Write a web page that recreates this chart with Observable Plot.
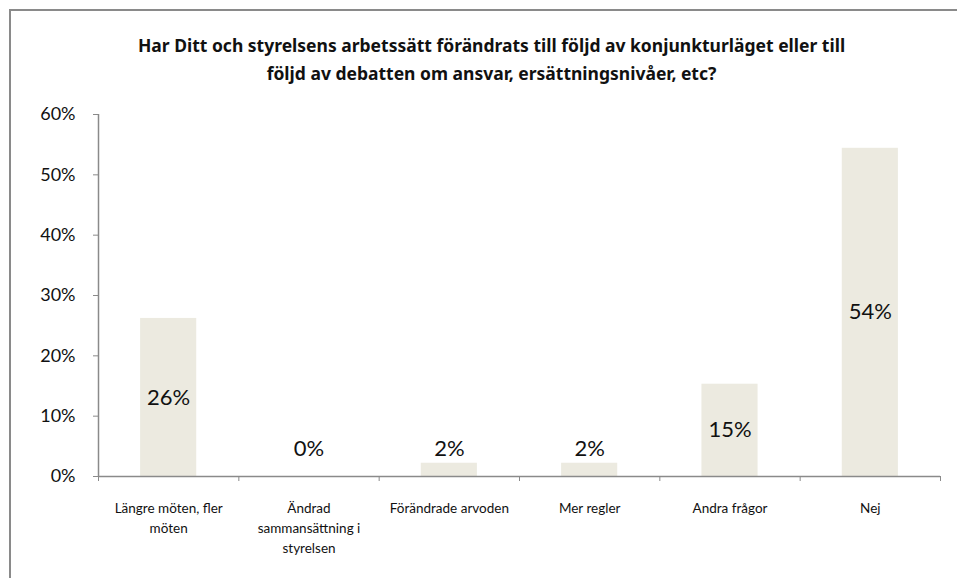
<!DOCTYPE html>
<html><head><meta charset="utf-8">
<script src="https://cdn.jsdelivr.net/npm/d3@7"></script>
<script src="https://cdn.jsdelivr.net/npm/@observablehq/plot@0.6"></script>
<style>
body{margin:0;background:#fff;font-family:Lato,"Noto Sans",sans-serif;}
#wrap{position:relative;width:957px;height:578px;overflow:hidden;}
#frame{position:absolute;left:9px;top:9px;width:2000px;height:2000px;border-left:2px solid #8a8a8a;border-top:2px solid #8a8a8a;}
#title{position:absolute;left:0;top:31px;width:983px;text-align:center;font-family:"Noto Sans",sans-serif;font-weight:bold;font-size:17.5px;line-height:28px;color:#111;}
#chart{position:absolute;left:0;top:0;}
</style></head>
<body>
<div id="wrap"><div id="frame"></div><div id="chart"></div>
<div id="title">Har Ditt och styrelsens arbetssätt förändrats till följd av konjunkturläget eller till<br>följd av debatten om ansvar, ersättningsnivåer, etc?</div></div>
<script>
const categories = ["Längre möten, fler\nmöten", "Ändrad\nsammansättning i\nstyrelsen", "Förändrade arvoden", "Mer regler", "Andra frågor", "Nej"];
const values = [0.262, 0, 0.022, 0.022, 0.153, 0.544];
const labels = ["26%", "0%", "2%", "2%", "15%", "54%"];
const yTicks = [0, 0.1, 0.2, 0.3, 0.4, 0.5, 0.6];

const data = categories.map((c, i) => ({i, c, v: values[i], label: labels[i]}));
const n = categories.length;

const chart = Plot.plot({
  width: 957, height: 578,
  marginLeft: 98, marginRight: 17, marginTop: 114, marginBottom: 102,
  style: {fontFamily: "Lato, 'Noto Sans', sans-serif", background: "transparent", color: "#111"},
  x: {type: "linear", domain: [0, n]},
  y: {domain: [0, 0.6]},
  marks: [
    Plot.rectY(data, {x1: d => d.i + 0.3, x2: d => d.i + 0.7, y1: 0, y2: "v", fill: "#ECEAE0"}),
    Plot.ruleX([0], {y1: 0, y2: 0.6, stroke: "#8a8a8a", strokeWidth: 1.5}),
    Plot.ruleY([0], {x1: 0, x2: n, stroke: "#8a8a8a", strokeWidth: 1.5}),
    Plot.axisY({ticks: yTicks, tickFormat: d3.format(".0%"), tickSize: 5, tickPadding: 18, stroke: "#8a8a8a", fill: "#111", fontSize: 18, label: null}),
    Plot.axisX({ticks: d3.range(n + 1), tickFormat: () => "", tickSize: 5, stroke: "#8a8a8a", label: null}),
    Plot.axisX({ticks: d3.range(n).map(i => i + 0.5), tickFormat: t => categories[Math.floor(t)], tickSize: 0, tickPadding: 22, fontSize: 13.5, lineHeight: 1.48, fill: "#111", label: null, textAnchor: "middle", lineAnchor: "top"}),
    Plot.text(data, {x: d => d.i + 0.5, y: d => Math.max(d.v / 2, 0.045), text: "label", fontSize: 22, fill: "#111", lineAnchor: "middle"})
  ]
});
document.getElementById("chart").append(chart);
</script>
</body></html>
